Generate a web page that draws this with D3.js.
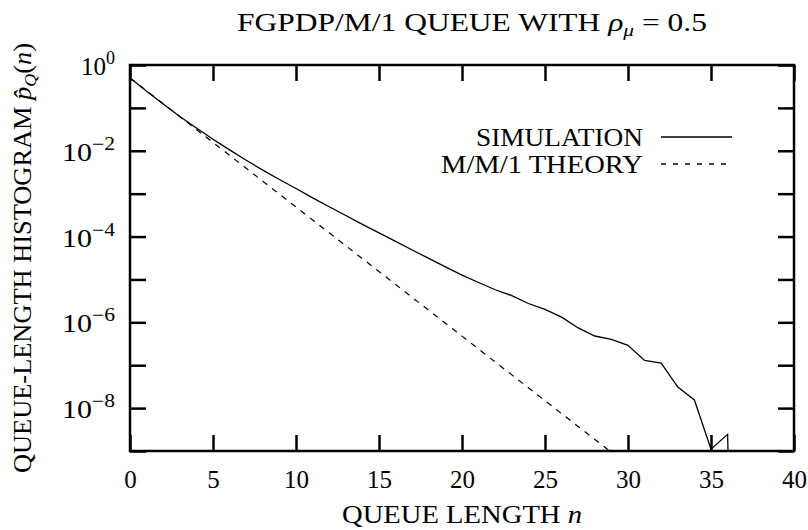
<!DOCTYPE html>
<html>
<head>
<meta charset="utf-8">
<script src="https://cdn.jsdelivr.net/npm/d3@7/dist/d3.min.js"></script>
<style>
  html, body { margin: 0; padding: 0; background: #fff; }
  svg { display: block; }
  text { font-family: "Liberation Serif", "Times New Roman", serif; fill: #000; }
</style>
</head>
<body>
<svg id="chart" width="808" height="530"></svg>
<script>
// Queue length n for each histogram bin
const simLength = [0, 1, 2, 3, 4, 5, 6, 7, 8, 9, 10, 11, 12, 13, 14, 15, 16, 17, 18, 19,
  20, 21, 22, 23, 24, 25, 26, 27, 28, 29, 30, 31, 32, 33, 34, 35, 36, 37];
// Simulated queue-length histogram (no samples observed at n = 37)
const simProb = [5.0e-1, 2.45e-1, 1.23e-1, 6.3e-2, 3.4e-2, 1.86e-2, 1.05e-2, 6.0e-3, 3.55e-3, 2.14e-3,
  1.32e-3, 8.0e-4, 4.95e-4, 3.1e-4, 1.93e-4, 1.22e-4, 7.7e-5, 4.85e-5, 3.1e-5, 1.97e-5,
  1.26e-5, 8.5e-6, 5.75e-6, 4.2e-6, 2.75e-6, 2.0e-6, 1.32e-6, 7.4e-7, 4.8e-7, 4.0e-7,
  2.9e-7, 1.29e-7, 1.12e-7, 3.1e-8, 1.55e-8, 1.1e-9, 2.45e-9, 1e-24];

// M/M/1 geometric distribution (1 - rho) rho^n with rho = 0.5
const theoryLength = [0, 1, 2, 3, 4, 5, 6, 7, 8, 9, 10, 11, 12, 13, 14, 15, 16, 17, 18, 19,
  20, 21, 22, 23, 24, 25, 26, 27, 28, 29];
const theoryProb = [5.0e-1, 2.5e-1, 1.25e-1, 6.25e-2, 3.125e-2, 1.5625e-2, 7.8125e-3, 3.90625e-3,
  1.953125e-3, 9.765625e-4, 4.8828125e-4, 2.44140625e-4, 1.220703125e-4, 6.103515625e-5,
  3.0517578125e-5, 1.52587890625e-5, 7.62939453125e-6, 3.814697265625e-6, 1.9073486328125e-6,
  9.5367431640625e-7, 4.76837158203125e-7, 2.384185791015625e-7, 1.1920928955078125e-7,
  5.960464477539063e-8, 2.9802322387695312e-8, 1.4901161193847656e-8, 7.450580596923828e-9,
  3.725290298461914e-9, 1.862645149230957e-9, 9.313225746154785e-10];

const xTicks = [0, 5, 10, 15, 20, 25, 30, 35, 40];
const yTicks = [1e0, 1e-1, 1e-2, 1e-3, 1e-4, 1e-5, 1e-6, 1e-7, 1e-8, 1e-9];
const yLabelExponents = [0, -2, -4, -6, -8];
const legendLabels = ["SIMULATION", "M/M/1 THEORY"];

const serif = "Liberation Serif, Times New Roman, serif";
const plot = { left: 130, right: 794, top: 65, bottom: 451 };
const svg = d3.select("#chart");

const x = d3.scaleLinear().domain([0, 40]).range([plot.left, plot.right]);
const y = d3.scaleLog().domain([1e-9, 1]).range([plot.bottom, plot.top]);

svg.append("defs").append("clipPath").attr("id", "plot-clip")
  .append("rect")
  .attr("x", plot.left).attr("y", plot.top)
  .attr("width", plot.right - plot.left).attr("height", plot.bottom - plot.top);

// Axes: inward ticks on all four sides
const tickLen = 16;
function styleAxis(g) {
  g.select(".domain").remove();
  g.selectAll(".tick line").attr("stroke", "#000").attr("stroke-width", 2.5);
}
svg.append("g").attr("transform", `translate(0,${plot.bottom})`)
  .call(d3.axisBottom(x).tickValues(xTicks).tickSize(-tickLen).tickPadding(19).tickFormat(d3.format("d")))
  .call(styleAxis)
  .call(g => g.selectAll(".tick text").attr("font-size", 25)
    .attr("font-family", serif).attr("fill", "#000"));
svg.append("g").attr("transform", `translate(0,${plot.top})`)
  .call(d3.axisTop(x).tickValues(xTicks).tickSize(-tickLen).tickFormat(""))
  .call(styleAxis);
svg.append("g").attr("transform", `translate(${plot.left},0)`)
  .call(d3.axisLeft(y).tickValues(yTicks).tickSize(-tickLen).tickFormat(""))
  .call(styleAxis);
svg.append("g").attr("transform", `translate(${plot.right},0)`)
  .call(d3.axisRight(y).tickValues(yTicks).tickSize(-tickLen).tickFormat(""))
  .call(styleAxis);

// Power-of-ten labels on the y axis
const yLab = svg.append("g");
yLabelExponents.forEach(e => {
  const t = yLab.append("text")
    .attr("x", 115).attr("y", y(Math.pow(10, e)) + 10)
    .attr("text-anchor", "end").attr("font-size", 25).attr("font-family", serif)
    .attr("textLength", e < 0 ? 53 : 34).attr("lengthAdjust", "spacingAndGlyphs");
  t.append("tspan").text("10");
  t.append("tspan").attr("dy", -11).attr("font-size", 18)
    .text(e < 0 ? "\u2212" + Math.abs(e) : String(e));
});

// Data curves
const line = d3.line().x(d => x(d[0])).y(d => y(d[1]));
const curves = svg.append("g").attr("clip-path", "url(#plot-clip)");
curves.append("path")
  .datum(theoryLength.map((n, i) => [n, theoryProb[i]]))
  .attr("fill", "none").attr("stroke", "#000").attr("stroke-width", 1.2)
  .attr("stroke-dasharray", "6,6")
  .attr("d", line);
curves.append("path")
  .datum(simLength.map((n, i) => [n, simProb[i]]))
  .attr("fill", "none").attr("stroke", "#000").attr("stroke-width", 1.3)
  .attr("d", line);

// Plot border
svg.append("rect")
  .attr("x", plot.left).attr("y", plot.top)
  .attr("width", plot.right - plot.left).attr("height", plot.bottom - plot.top)
  .attr("fill", "none").attr("stroke", "#000").attr("stroke-width", 2.5);

// Legend
const legendRows = [137, 164];
const legendWidths = [167, 202];
legendLabels.forEach((label, i) => {
  svg.append("text")
    .attr("x", 643).attr("y", legendRows[i] + 9)
    .attr("text-anchor", "end").attr("font-size", 25).attr("font-family", serif)
    .attr("textLength", legendWidths[i]).attr("lengthAdjust", "spacingAndGlyphs")
    .text(label);
  svg.append("line")
    .attr("x1", 661).attr("x2", 732)
    .attr("y1", legendRows[i]).attr("y2", legendRows[i])
    .attr("stroke", "#000").attr("stroke-width", 1.3)
    .attr("stroke-dasharray", i === 1 ? "5,7" : null);
});

// Title
const title = svg.append("text")
  .attr("x", 472).attr("y", 31).attr("text-anchor", "middle").attr("font-size", 25)
  .attr("font-family", serif)
  .attr("textLength", 470).attr("lengthAdjust", "spacingAndGlyphs");
title.append("tspan").text("FGPDP/M/1 QUEUE WITH ");
title.append("tspan").attr("font-style", "italic").text("\u03C1");
title.append("tspan").attr("font-style", "italic").attr("font-size", 17).attr("dy", 5).text("\u03BC");
title.append("tspan").attr("dy", -5).text(" = 0.5");

// X axis label
const xl = svg.append("text")
  .attr("x", 462).attr("y", 523).attr("text-anchor", "middle").attr("font-size", 25)
  .attr("font-family", serif)
  .attr("textLength", 240).attr("lengthAdjust", "spacingAndGlyphs");
xl.append("tspan").text("QUEUE LENGTH ");
xl.append("tspan").attr("font-style", "italic").text("n");

// Y axis label
const yl = svg.append("text")
  .attr("transform", "translate(31,258) rotate(-90)")
  .attr("text-anchor", "middle").attr("font-size", 25).attr("font-family", serif)
  .attr("textLength", 430).attr("lengthAdjust", "spacingAndGlyphs");
yl.append("tspan").text("QUEUE-LENGTH HISTOGRAM ");
yl.append("tspan").attr("font-style", "italic").text("p\u0302");
yl.append("tspan").attr("font-style", "italic").attr("font-size", 17).attr("dy", 5).text("Q");
yl.append("tspan").attr("dy", -5).text("(");
yl.append("tspan").attr("font-style", "italic").text("n");
yl.append("tspan").text(")");
</script>
</body>
</html>
